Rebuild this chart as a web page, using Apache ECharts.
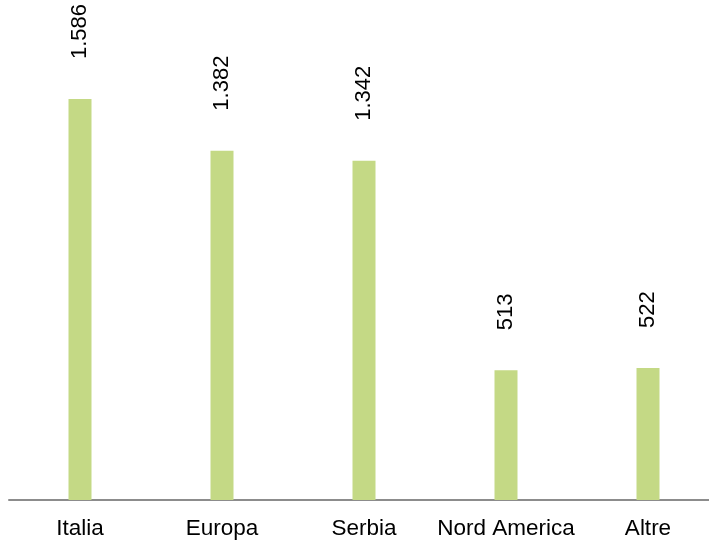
<!DOCTYPE html>
<html>
<head>
<meta charset="utf-8">
<script src="https://cdn.jsdelivr.net/npm/echarts@6/dist/echarts.min.js"></script>
<style>
html,body{margin:0;padding:0;background:#fff;}
#chart{width:709px;height:544px;}
</style>
</head>
<body>
<div id="chart"></div>
<script>
const categories = ["Italia", "Europa", "Serbia", "Nord America", "Altre"];
const values = [1586, 1382, 1342, 513, 522];
const valueLabels = ["1.586", "1.382", "1.342", "513", "522"];

const chart = echarts.init(document.getElementById('chart'), null, {renderer: 'canvas'});
chart.setOption({
  animation: false,
  backgroundColor: '#ffffff',
  grid: {left: 9, width: 710, top: 45, bottom: 44, containLabel: false, outerBoundsMode: 'none'},
  xAxis: {
    type: 'category',
    data: categories,
    axisLine: {lineStyle: {color: '#8c8c8c', width: 2}},
    axisTick: {show: false},
    axisLabel: {
      color: '#000',
      fontFamily: 'Liberation Sans, Arial, sans-serif',
      fontSize: 22.5,
      margin: 17,
      interval: 0
    }
  },
  yAxis: {
    type: 'value',
    min: 0,
    max: 1800,
    show: false,
    splitLine: {show: false}
  },
  series: [{
    type: 'bar',
    data: values,
    barWidth: 23,
    itemStyle: {color: '#C4D985'},
    label: {
      show: true,
      position: 'top',
      rotate: 90,
      align: 'left',
      verticalAlign: 'middle',
      distance: 38,
      offset: [2, 0],
      color: '#000',
      fontFamily: 'Liberation Sans, Arial, sans-serif',
      fontSize: 22,
      formatter: p => valueLabels[p.dataIndex]
    }
  }]
});
</script>
</body>
</html>
